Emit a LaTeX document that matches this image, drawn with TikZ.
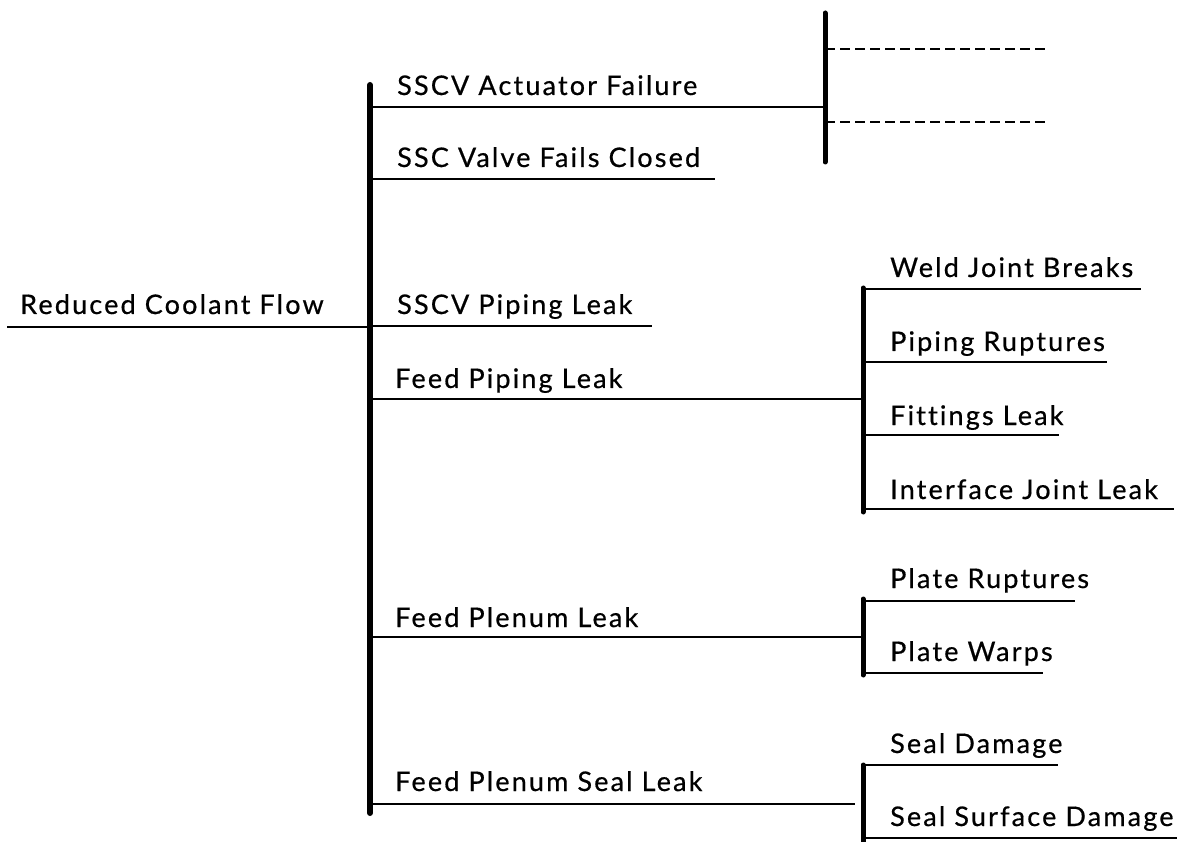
\documentclass[tikz,border=0pt]{standalone}
\usepackage{fontspec}
\setmainfont{Lato}[LetterSpace=8,Ligatures=NoCommon,FakeBold=0.6]
\begin{document}
\begin{tikzpicture}[x=1pt,y=-1pt,
  lbl/.style={anchor=base west,inner sep=0pt,font=\fontsize{27}{27}\selectfont},
  thin/.style={line width=2.5pt},
  bar/.style={line width=6pt,line cap=round},
  minorbar/.style={line width=5pt,line cap=round},
  dashline/.style={line width=2.8pt,dash pattern=on 10pt off 5pt}]
\useasboundingbox (0,0) rectangle (1187,842);
% coordinates
\coordinate (mtop) at (370,85);
\coordinate (mbot) at (370,813);
% root
\node[lbl] (root) at (20,314) {Reduced Coolant Flow};
\coordinate (rootL) at (7,327);
\coordinate (rootR) at (370,327);
\draw[thin] (rootL) -- (rootR);
\draw[bar] (mtop) -- (mbot);
% branch 1
\node[lbl] (b1) at (397,95) {SSCV Actuator Failure};
\coordinate (b1L) at (370,107);
\coordinate (b1R) at (825,107);
\draw[thin] (b1L) -- (b1R);
\coordinate (t2top) at (825,13);
\coordinate (t2bot) at (825,162);
\draw[minorbar] (t2top) -- (t2bot);
\coordinate (d1L) at (825,49); \coordinate (d1R) at (1047,49);
\coordinate (d2L) at (825,122); \coordinate (d2R) at (1047,122);
\draw[dashline] (d1L) -- (d1R);
\draw[dashline] (d2L) -- (d2R);
% branch 2
\node[lbl] (b2) at (397,167) {SSC Valve Fails Closed};
\coordinate (b2L) at (370,179); \coordinate (b2R) at (715,179);
\draw[thin] (b2L) -- (b2R);
% branch 3
\node[lbl] (b3) at (397,314) {SSCV Piping Leak};
\coordinate (b3L) at (370,326); \coordinate (b3R) at (652,326);
\draw[thin] (b3L) -- (b3R);
% branch 4
\node[lbl] (b4) at (395,388) {Feed Piping Leak};
\coordinate (b4L) at (370,399); \coordinate (b4R) at (863,399);
\draw[thin] (b4L) -- (b4R);
\coordinate (t4top) at (863,288); \coordinate (t4bot) at (863,512);
\draw[minorbar] (t4top) -- (t4bot);
\node[lbl] (c1) at (890,277) {Weld Joint Breaks};
\coordinate (c1L) at (863,289); \coordinate (c1R) at (1141,289);
\draw[thin] (c1L) -- (c1R);
\node[lbl] (c2) at (890,351) {Piping Ruptures};
\coordinate (c2L) at (863,362); \coordinate (c2R) at (1107,362);
\draw[thin] (c2L) -- (c2R);
\node[lbl] (c3) at (890,425) {Fittings Leak};
\coordinate (c3L) at (863,435); \coordinate (c3R) at (1059,435);
\draw[thin] (c3L) -- (c3R);
\node[lbl] (c4) at (890,499) {Interface Joint Leak};
\coordinate (c4L) at (863,509); \coordinate (c4R) at (1174,509);
\draw[thin] (c4L) -- (c4R);
% branch 5
\node[lbl] (b5) at (395,627) {Feed Plenum Leak};
\coordinate (b5L) at (370,637); \coordinate (b5R) at (863,637);
\draw[thin] (b5L) -- (b5R);
\coordinate (t5top) at (863,599); \coordinate (t5bot) at (863,675);
\draw[minorbar] (t5top) -- (t5bot);
\node[lbl] (e1) at (890,588) {Plate Ruptures};
\coordinate (e1L) at (863,601); \coordinate (e1R) at (1075,601);
\draw[thin] (e1L) -- (e1R);
\node[lbl] (e2) at (890,661) {Plate Warps};
\coordinate (e2L) at (863,673); \coordinate (e2R) at (1043,673);
\draw[thin] (e2L) -- (e2R);
% branch 6
\node[lbl] (b6) at (395,791) {Feed Plenum Seal Leak};
\coordinate (b6L) at (370,804); \coordinate (b6R) at (855,804);
\draw[thin] (b6L) -- (b6R);
\coordinate (t6top) at (863,765); \coordinate (t6bot) at (863,842);
\draw[minorbar] (t6top) -- (t6bot);
\node[lbl] (f1) at (890,753) {Seal Damage};
\coordinate (f1L) at (863,765); \coordinate (f1R) at (1058,765);
\draw[thin] (f1L) -- (f1R);
\node[lbl] (f2) at (890,826) {Seal Surface Damage};
\coordinate (f2L) at (863,838); \coordinate (f2R) at (1177,838);
\draw[thin] (f2L) -- (f2R);
\end{tikzpicture}
\end{document}
